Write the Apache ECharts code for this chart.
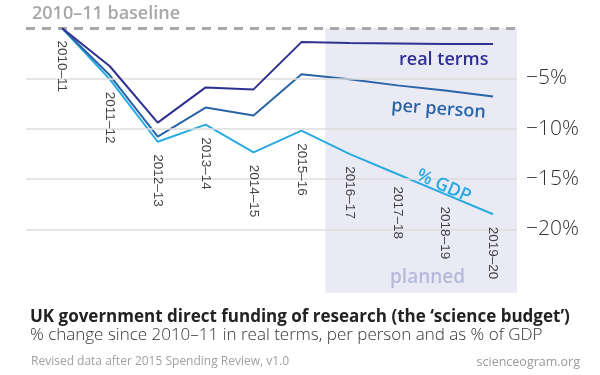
<!DOCTYPE html>
<html>
<head>
<meta charset="utf-8">
<script src="https://cdn.jsdelivr.net/npm/echarts@6/dist/echarts.min.js"></script>
<style>
html, body { margin: 0; padding: 0; background: #fff; }
#chart { width: 600px; height: 375px; }
</style>
</head>
<body>
<div id="chart"></div>
<script>
// 数据
var years = ['2010–11', '2011–12', '2012–13', '2013–14', '2014–15', '2015–16', '2016–17', '2017–18', '2018–19', '2019–20'];
var realTerms = [0, -3.8, -9.4, -5.9, -6.1, -1.4, -1.5, -1.55, -1.6, -1.6];
var perPerson = [0, -4.7, -10.8, -7.9, -8.7, -4.6, -5.1, -5.7, -6.2, -6.8];
var pctGdp = [0, -5.1, -11.3, -9.6, -12.35, -10.2, -12.5, -14.5, -16.5, -18.5];
var yTicks = [-5, -10, -15, -20];
var plannedYears = ['2016–17', '2019–20'];

function pairs(arr) {
	return arr.map(function(v, i) { return [i, v]; });
}

var lowest = years.map(function(y, i) {
	return [i, Math.min(realTerms[i], perPerson[i], pctGdp[i])];
});

var fontSans = '"Open Sans", "Noto Sans", sans-serif';

var myChart = echarts.init(document.getElementById('chart'));
var option = {
	animation: false,
	backgroundColor: '#fff',
	grid: { left: 26, right: 83, top: 28, bottom: 45 },
	title: [{
		text: 'UK government direct funding of research (the ‘science budget’)',
		left: 25, top: 304,
		textStyle: { fontFamily: fontSans, fontSize: 17, fontWeight: 'bold', color: '#222' }
	}, {
		text: '% change since 2010–11 in real terms, per person and as % of GDP',
		left: 25, top: 322,
		textStyle: { fontFamily: fontSans, fontSize: 17, fontWeight: 300, color: '#333' }
	}, {
		text: 'Revised data after 2015 Spending Review, v1.0',
		left: 26, top: 351,
		textStyle: { fontFamily: fontSans, fontSize: 12, fontWeight: 'normal', color: '#a0a0a0' }
	}, {
		text: 'scienceogram.org',
		right: 15, top: 351,
		textStyle: { fontFamily: fontSans, fontSize: 12.5, fontWeight: 'normal', color: '#999' }
	}],
	xAxis: {
		type: 'value', min: -0.75, max: 9.5, show: false
	},
	yAxis: {
		type: 'value', position: 'right', min: -30, max: 0, interval: 5,
		axisLine: { show: false }, axisTick: { show: false }, splitLine: { show: false },
		axisLabel: {
			margin: 9,
			fontFamily: fontSans, fontSize: 21, fontWeight: 300, color: '#333',
			formatter: function(v) {
				return yTicks.indexOf(v) >= 0 ? '−' + Math.abs(v) + '%' : '';
			}
		}
	},
	graphic: [{
		type: 'text', left: 32, top: 5, z: 100,
		style: { text: '2010–11 baseline', fontFamily: fontSans, fontSize: 18, fontWeight: 600, fill: '#a7a7a9' }
	}, {
		type: 'text', x: 399, y: 51, z: 100,
		style: { text: 'real terms', fontFamily: fontSans, fontSize: 18, fontWeight: 600, fill: '#2e3192' }
	}, {
		type: 'text', x: 392, y: 97, z: 100, rotation: -4 * Math.PI / 180,
		style: { text: 'per person', fontFamily: fontSans, fontSize: 18, fontWeight: 600, fill: '#2a64a8' }
	}, {
		type: 'text', x: 421, y: 166, z: 100, rotation: -24 * Math.PI / 180,
		style: { text: '% GDP', fontFamily: fontSans, fontSize: 18, fontWeight: 600, fill: '#29abe2' }
	}, {
		type: 'text', x: 390, y: 268, z: 100,
		style: { text: 'planned', fontFamily: fontSans, fontSize: 19, fontWeight: 600, fill: '#b5b9dc' }
	}],
	series: [{
		// 背景: planned 区域、网格线、基线
		type: 'line', data: [], z: 0, silent: true,
		markArea: {
			silent: true,
			itemStyle: { color: '#e9eaf3' },
			data: [[{ xAxis: years.indexOf(plannedYears[0]) - 0.5, yAxis: 0 },
					{ xAxis: years.indexOf(plannedYears[1]) + 0.5, yAxis: -26.3 }]]
		}
	}, {
		type: 'line', data: [], z: 1, silent: true,
		markLine: {
			silent: true, symbol: 'none', label: { show: false },
			lineStyle: { color: '#dcdcdc', width: 1.5, type: 'solid' },
			data: yTicks.map(function(t) { return { yAxis: t }; })
		}
	}, {
		type: 'line', data: [], z: 1, silent: true,
		markLine: {
			silent: true, symbol: 'none', label: { show: false },
			lineStyle: { color: '#a7a7a9', width: 3, type: [9, 7] },
			data: [{ yAxis: 0 }]
		}
	}, {
		name: '% GDP', type: 'line', z: 3, symbol: 'none',
		lineStyle: { color: '#29abe2', width: 2 },
		data: pairs(pctGdp)
	}, {
		name: 'per person', type: 'line', z: 4, symbol: 'none',
		lineStyle: { color: '#2a64a8', width: 2 },
		data: pairs(perPerson)
	}, {
		name: 'real terms', type: 'line', z: 5, symbol: 'none',
		lineStyle: { color: '#2e3192', width: 2 },
		data: pairs(realTerms)
	}, {
		// 年份标签, 放在最低的线下方
		type: 'scatter', z: 6, silent: true,
		symbolSize: 1, itemStyle: { color: 'rgba(0,0,0,0)' },
		data: lowest,
		label: {
			show: true, position: 'bottom', distance: 12,
			rotate: -90, align: 'left', verticalAlign: 'middle',
			fontFamily: '"Liberation Sans", Arial, sans-serif', fontSize: 13.5, color: '#111',
			formatter: function(p) { return years[p.data[0]]; }
		}
	}]
};
myChart.setOption(option);
</script>
</body>
</html>
